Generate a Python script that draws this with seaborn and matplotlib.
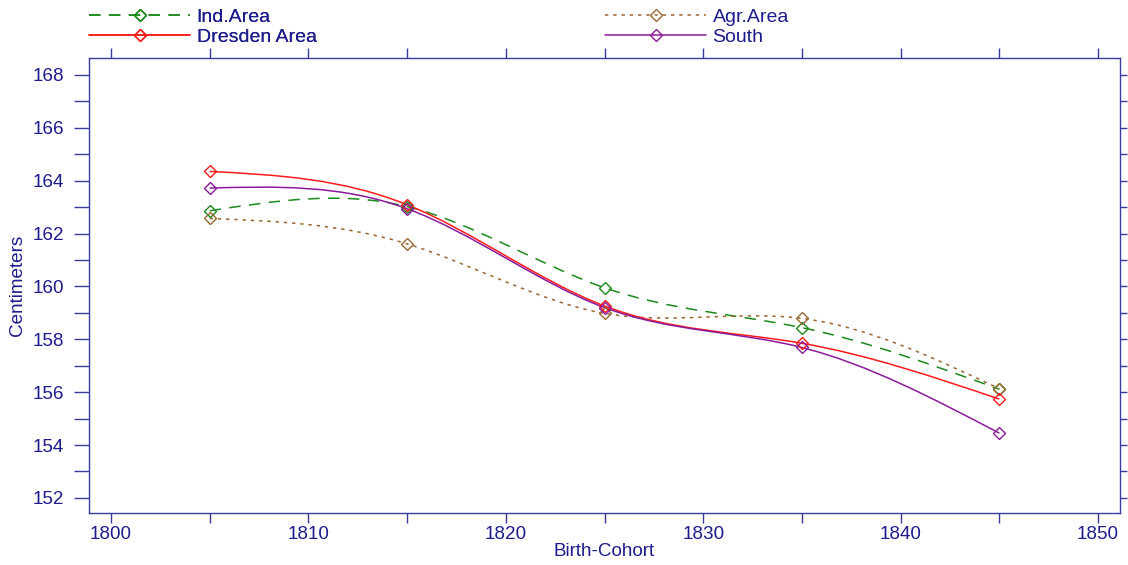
import numpy as np
import pandas as pd
import matplotlib
matplotlib.use("Agg")
import matplotlib.pyplot as plt
from matplotlib.path import Path
from matplotlib.patches import PathPatch
from matplotlib.lines import Line2D
from matplotlib.ticker import MultipleLocator
import seaborn as sns

# Birth cohorts and mean heights (cm)
cohorts = [1805, 1815, 1825, 1835, 1845]
ind_area = [162.86, 163.02, 159.95, 158.44, 156.11]
agr_area = [162.57, 161.61, 158.98, 158.79, 156.13]
dresden_area = [164.35, 163.09, 159.26, 157.85, 155.74]
south = [163.72, 162.94, 159.20, 157.69, 154.45]

series_names = ["Ind.Area", "Agr.Area", "Dresden Area", "South"]
series_values = [ind_area, agr_area, dresden_area, south]
colors = ["#1a8a1a", "#9a6630", "#ff1a1a", "#8b1a9b"]
dashes = [(7.5, 5.5), (2.2, 3.2), None, None]

navy = "#1c1c8c"
spine_col = "#3a3aa0"

sns.set_theme(style="white")
plt.rcParams["font.family"] = ["Liberation Sans", "DejaVu Sans"]

df = pd.DataFrame({
    "cohort": np.tile(cohorts, len(series_names)),
    "height": np.concatenate(series_values),
    "area": np.repeat(series_names, len(cohorts)),
})

fig = plt.figure(figsize=(11.28, 5.65), dpi=100)
ax = fig.add_axes([89 / 1128, 1 - 513 / 565, (1120 - 89) / 1128, (513 - 58) / 565])


def natural_spline_path(x, y):
    """Natural cubic spline through (x, y) expressed as cubic Bezier segments."""
    x = np.asarray(x, float)
    y = np.asarray(y, float)
    n = len(x)
    h = np.diff(x)
    A = np.zeros((n, n))
    r = np.zeros(n)
    A[0, 0] = A[-1, -1] = 1.0
    for i in range(1, n - 1):
        A[i, i - 1] = h[i - 1]
        A[i, i] = 2 * (h[i - 1] + h[i])
        A[i, i + 1] = h[i]
        r[i] = 6 * ((y[i + 1] - y[i]) / h[i] - (y[i] - y[i - 1]) / h[i - 1])
    M = np.linalg.solve(A, r)
    d = np.zeros(n)
    for i in range(n - 1):
        d[i] = (y[i + 1] - y[i]) / h[i] - h[i] * (2 * M[i] + M[i + 1]) / 6
    d[-1] = (y[-1] - y[-2]) / h[-1] + h[-1] * (M[-2] + 2 * M[-1]) / 6
    verts = [(x[0], y[0])]
    codes = [Path.MOVETO]
    for i in range(n - 1):
        verts += [(x[i] + h[i] / 3, y[i] + d[i] * h[i] / 3),
                  (x[i + 1] - h[i] / 3, y[i + 1] - d[i + 1] * h[i] / 3),
                  (x[i + 1], y[i + 1])]
        codes += [Path.CURVE4] * 3
    return Path(verts, codes)


handles = []
for name, vals, col, ds in zip(series_names, series_values, colors, dashes):
    ls = (0, ds) if ds is not None else "-"
    patch = PathPatch(natural_spline_path(cohorts, vals), facecolor="none",
                      edgecolor=col, lw=1.1, linestyle=ls, zorder=2)
    ax.add_patch(patch)
    sub = df[df["area"] == name]
    sns.lineplot(data=sub, x="cohort", y="height", ax=ax, color=col,
                 linestyle="none", marker="D", markersize=6,
                 markerfacecolor="none", markeredgecolor=col,
                 markeredgewidth=1.0, legend=False, zorder=3)
    handles.append(Line2D([], [], color=col, lw=1.1, linestyle=ls, marker="D",
                          markersize=6, markerfacecolor="none",
                          markeredgecolor=col, markeredgewidth=1.0))

ax.set_xlim(1798.89, 1851.11)
ax.set_ylim(151.43, 168.64)

ax.xaxis.set_major_locator(MultipleLocator(10))
ax.xaxis.set_minor_locator(MultipleLocator(5))
ax.yaxis.set_major_locator(MultipleLocator(2))
ax.yaxis.set_minor_locator(MultipleLocator(1))

for s in ax.spines.values():
    s.set_color(spine_col)
    s.set_linewidth(1.0)

ax.tick_params(axis="x", which="both", direction="out", length=7.5, width=1.0,
               color=spine_col, labelcolor=navy, labelsize=13.6, pad=2,
               bottom=True, top=True, labeltop=False)
ax.tick_params(axis="y", which="both", direction="out", length=10.8, width=1.0,
               color=spine_col, labelcolor=navy, labelsize=13.6, pad=7,
               left=True, right=True, labelright=False)
# right-hand ticks are shorter
for tl in ax.yaxis.get_majorticklines()[1::2] + ax.yaxis.get_minorticklines()[1::2]:
    tl.set_markersize(5)

ax.set_xlabel("Birth-Cohort", color=navy, fontsize=13.6, labelpad=0)
ax.set_ylabel("Centimeters", color=navy, fontsize=13.6, labelpad=5)
ax.grid(False)

leg_kw = dict(frameon=False, handlelength=5.2, handletextpad=0.33,
              borderpad=0, borderaxespad=0, labelspacing=0.1,
              fontsize=14, labelcolor=navy, numpoints=1)
leg1 = fig.legend([handles[0], handles[2]], [series_names[0], series_names[2]],
                  loc="upper left", bbox_to_anchor=(89 / 1128, 1 - 8.5 / 565), **leg_kw)
fig.add_artist(leg1)
fig.legend([handles[1], handles[3]], [series_names[1], series_names[3]],
           loc="upper left", bbox_to_anchor=(605 / 1128, 1 - 8.5 / 565), **leg_kw)

fig.savefig("out.png", dpi=100)
